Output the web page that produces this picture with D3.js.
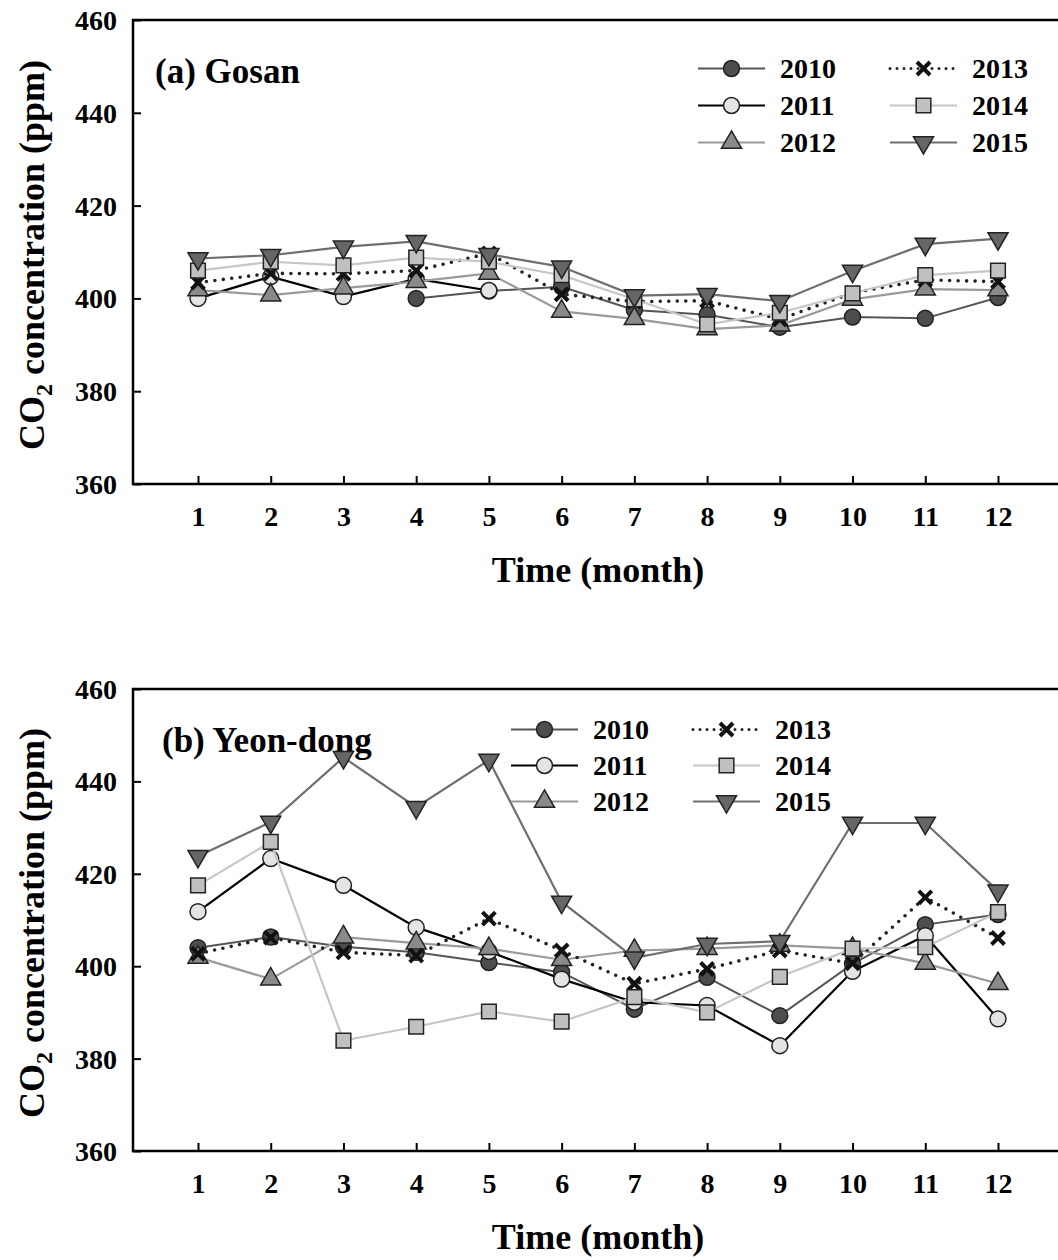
<!DOCTYPE html>
<html>
<head>
<meta charset="utf-8">
<script src="https://cdn.jsdelivr.net/npm/d3@7"></script>
<style>
  html, body { margin: 0; padding: 0; background: #fff; }
  svg { display: block; }
  text { font-family: "Liberation Serif", "Times New Roman", serif; font-weight: bold; fill: #000; }
</style>
</head>
<body>
<svg id="chart" width="1058" height="1260"></svg>
<script>
// Monthly mean CO2 concentration (ppm) at two stations, 2010–2015
const months = [1, 2, 3, 4, 5, 6, 7, 8, 9, 10, 11, 12];
const years = ["2010", "2011", "2012", "2013", "2014", "2015"];
const yTicks = [360, 380, 400, 420, 440, 460];

// (a) Gosan
const gosan2010 = [null, null, null, 400.0, 401.6, 402.5, 397.5, 396.5, 393.8, 396.0, 395.7, 400.2];
const gosan2011 = [400.0, 404.7, 400.4, 404.2, 401.7, null, null, null, null, null, null, null];
const gosan2012 = [401.8, 400.7, 402.2, 403.6, 405.4, 397.2, 395.6, 393.4, 394.2, 399.8, 402.0, 401.8];
const gosan2013 = [403.4, 405.4, 405.3, 406.0, 409.7, 400.9, 399.3, 399.5, 395.5, 401.2, 404.0, 403.6];
const gosan2014 = [406.0, 407.9, 407.1, 408.8, 407.9, 405.0, 399.8, 394.4, 396.9, 401.1, 405.0, 406.0];
const gosan2015 = [408.6, 409.3, 411.1, 412.3, 409.5, 406.8, 400.6, 400.9, 399.4, 405.9, 411.7, 412.9];

// (b) Yeon-dong
const yeondong2010 = [404.0, 406.3, 404.2, 403.0, 400.8, 398.7, 390.7, 397.6, 389.3, 400.5, 409.0, 411.2];
const yeondong2011 = [411.8, 423.3, 417.5, 408.4, 403.2, 397.2, 392.2, 391.5, 382.8, 398.9, 406.6, 388.6];
const yeondong2012 = [401.9, 397.2, 406.3, 405.0, 403.8, 401.4, 403.4, 403.8, 404.5, 403.8, 400.6, 396.2];
const yeondong2013 = [402.7, 406.2, 403.0, 402.3, 410.3, 403.4, 396.2, 399.4, 403.4, 400.6, 414.9, 406.1];
const yeondong2014 = [417.5, 426.9, 383.9, 386.9, 390.2, 388.0, 393.3, 390.0, 397.7, 403.8, 404.1, 411.7];
const yeondong2015 = [423.8, 431.2, 445.2, 434.4, 444.6, 413.9, 401.8, 404.8, 405.4, 431.0, 431.0, 416.3];

// Per-year line and marker styling
const styles = {
  "2010": { line: "#555", width: 2, dash: null, marker: "circle", fill: "#4d4d4d" },
  "2011": { line: "#000", width: 2.2, dash: null, marker: "circle", fill: "#e4e4e4" },
  "2012": { line: "#9a9a9a", width: 2.2, dash: null, marker: "triangle", fill: "#8a8a8a" },
  "2013": { line: "#222", width: 3.6, dash: "0 8.5", marker: "x", fill: "none" },
  "2014": { line: "#c6c6c6", width: 2.2, dash: null, marker: "square", fill: "#c0c0c0" },
  "2015": { line: "#6e6e6e", width: 2.2, dash: null, marker: "triangleDown", fill: "#666" }
};

const svg = d3.select("#chart");

function drawMarker(g, kind, x, y, fill) {
  if (kind === "x") {
    const s = 6.5;
    g.append("path")
      .attr("d", `M${x - s},${y - s}L${x + s},${y + s}M${x - s},${y + s}L${x + s},${y - s}`)
      .attr("stroke", "#111").attr("stroke-width", 4).attr("fill", "none");
    return;
  }
  let sym, size, rot = 0;
  if (kind === "circle") { sym = d3.symbolCircle; size = 200; }
  else if (kind === "square") { sym = d3.symbolSquare; size = 215; }
  else if (kind === "triangle") { sym = d3.symbolTriangle; size = 175; }
  else { sym = d3.symbolTriangle; size = 175; rot = 180; }
  g.append("path")
    .attr("d", d3.symbol().type(sym).size(size)())
    .attr("transform", `translate(${x},${y}) rotate(${rot})`)
    .attr("fill", fill).attr("stroke", "#222").attr("stroke-width", 1.5);
}

function panel(cfg) {
  const g = svg.append("g");
  const x = d3.scaleLinear().domain([1, 12]).range([198, 998]);
  const y = d3.scaleLinear().domain([360, 460]).range([cfg.bottom, cfg.top]);
  const left = 133, right = 1075;

  // Plot frame (left, top and bottom edges)
  g.append("path")
    .attr("d", `M${right},${cfg.top}H${left}V${cfg.bottom}H${right}`)
    .attr("fill", "none").attr("stroke", "#000").attr("stroke-width", 2.5);

  // Y axis: inward ticks, labels on the left
  const yAxis = d3.axisLeft(y).tickValues(yTicks).tickSize(-8).tickPadding(16).tickFormat(d3.format("d"));
  const ya = g.append("g").attr("transform", `translate(${left},0)`).call(yAxis);
  ya.select(".domain").remove();
  ya.selectAll(".tick line").attr("stroke", "#000").attr("stroke-width", 2);
  ya.selectAll(".tick text").attr("font-size", 28).attr("font-family", "Liberation Serif").attr("font-weight", "bold").attr("fill", "#000").attr("dy", "0.34em");

  // X axis: inward ticks at each month
  const xAxis = d3.axisBottom(x).tickValues(months).tickSize(-8).tickPadding(22).tickFormat(d3.format("d"));
  const xa = g.append("g").attr("transform", `translate(0,${cfg.bottom})`).call(xAxis);
  xa.select(".domain").remove();
  xa.selectAll(".tick line").attr("stroke", "#000").attr("stroke-width", 2);
  xa.selectAll(".tick text").attr("font-size", 28).attr("font-family", "Liberation Serif").attr("font-weight", "bold").attr("fill", "#000").attr("dy", "0.71em");

  // Axis titles
  g.append("text").attr("x", 598).attr("y", cfg.bottom + 98)
    .attr("text-anchor", "middle").attr("font-size", 36).text("Time (month)");
  const yt = g.append("text")
    .attr("transform", `translate(44,${(cfg.top + cfg.bottom) / 2 + 3}) rotate(-90)`)
    .attr("text-anchor", "middle").attr("font-size", 36);
  yt.append("tspan").text("CO");
  yt.append("tspan").attr("font-size", 24).attr("dy", 8).text("2");
  yt.append("tspan").attr("dy", -8).text(" concentration (ppm)");

  // Panel label
  g.append("text").attr("x", cfg.labelX).attr("y", cfg.labelY)
    .attr("font-size", 35).text(cfg.label);

  // Series: line first, then markers
  const line = d3.line().defined(d => d[1] != null).x(d => x(d[0])).y(d => y(d[1]));
  years.forEach((yr, i) => {
    const st = styles[yr];
    const pts = months.map((m, j) => [m, cfg.series[i][j]]);
    const p = g.append("path").attr("d", line(pts))
      .attr("fill", "none").attr("stroke", st.line).attr("stroke-width", st.width);
    if (st.dash) p.attr("stroke-dasharray", st.dash).attr("stroke-linecap", "round");
    pts.filter(d => d[1] != null).forEach(d => drawMarker(g, st.marker, x(d[0]), y(d[1]), st.fill));
  });

  // Legend in two columns of three rows
  years.forEach((yr, i) => {
    const st = styles[yr];
    const col = Math.floor(i / 3), row = i % 3;
    const lx = cfg.legend.cols[col];
    const base = cfg.legend.baselines[row];
    const cy = base - 9.5;
    const lp = g.append("path").attr("d", `M${lx},${cy}H${lx + 67}`)
      .attr("fill", "none").attr("stroke", st.line)
      .attr("stroke-width", st.dash ? 3 : st.width);
    if (st.dash) lp.attr("stroke-dasharray", "0 7").attr("stroke-linecap", "round");
    drawMarker(g, st.marker, lx + 33.5, cy, st.fill);
    g.append("text").attr("x", lx + 82).attr("y", base).attr("font-size", 28).text(yr);
  });
}

panel({
  top: 20, bottom: 484,
  label: "(a) Gosan", labelX: 155, labelY: 83,
  series: [gosan2010, gosan2011, gosan2012, gosan2013, gosan2014, gosan2015],
  legend: { cols: [698, 890], baselines: [78, 115, 152] }
});

panel({
  top: 689, bottom: 1151,
  label: "(b) Yeon-dong", labelX: 162, labelY: 752,
  series: [yeondong2010, yeondong2011, yeondong2012, yeondong2013, yeondong2014, yeondong2015],
  legend: { cols: [511, 693], baselines: [739, 775, 811] }
});
</script>
</body>
</html>
